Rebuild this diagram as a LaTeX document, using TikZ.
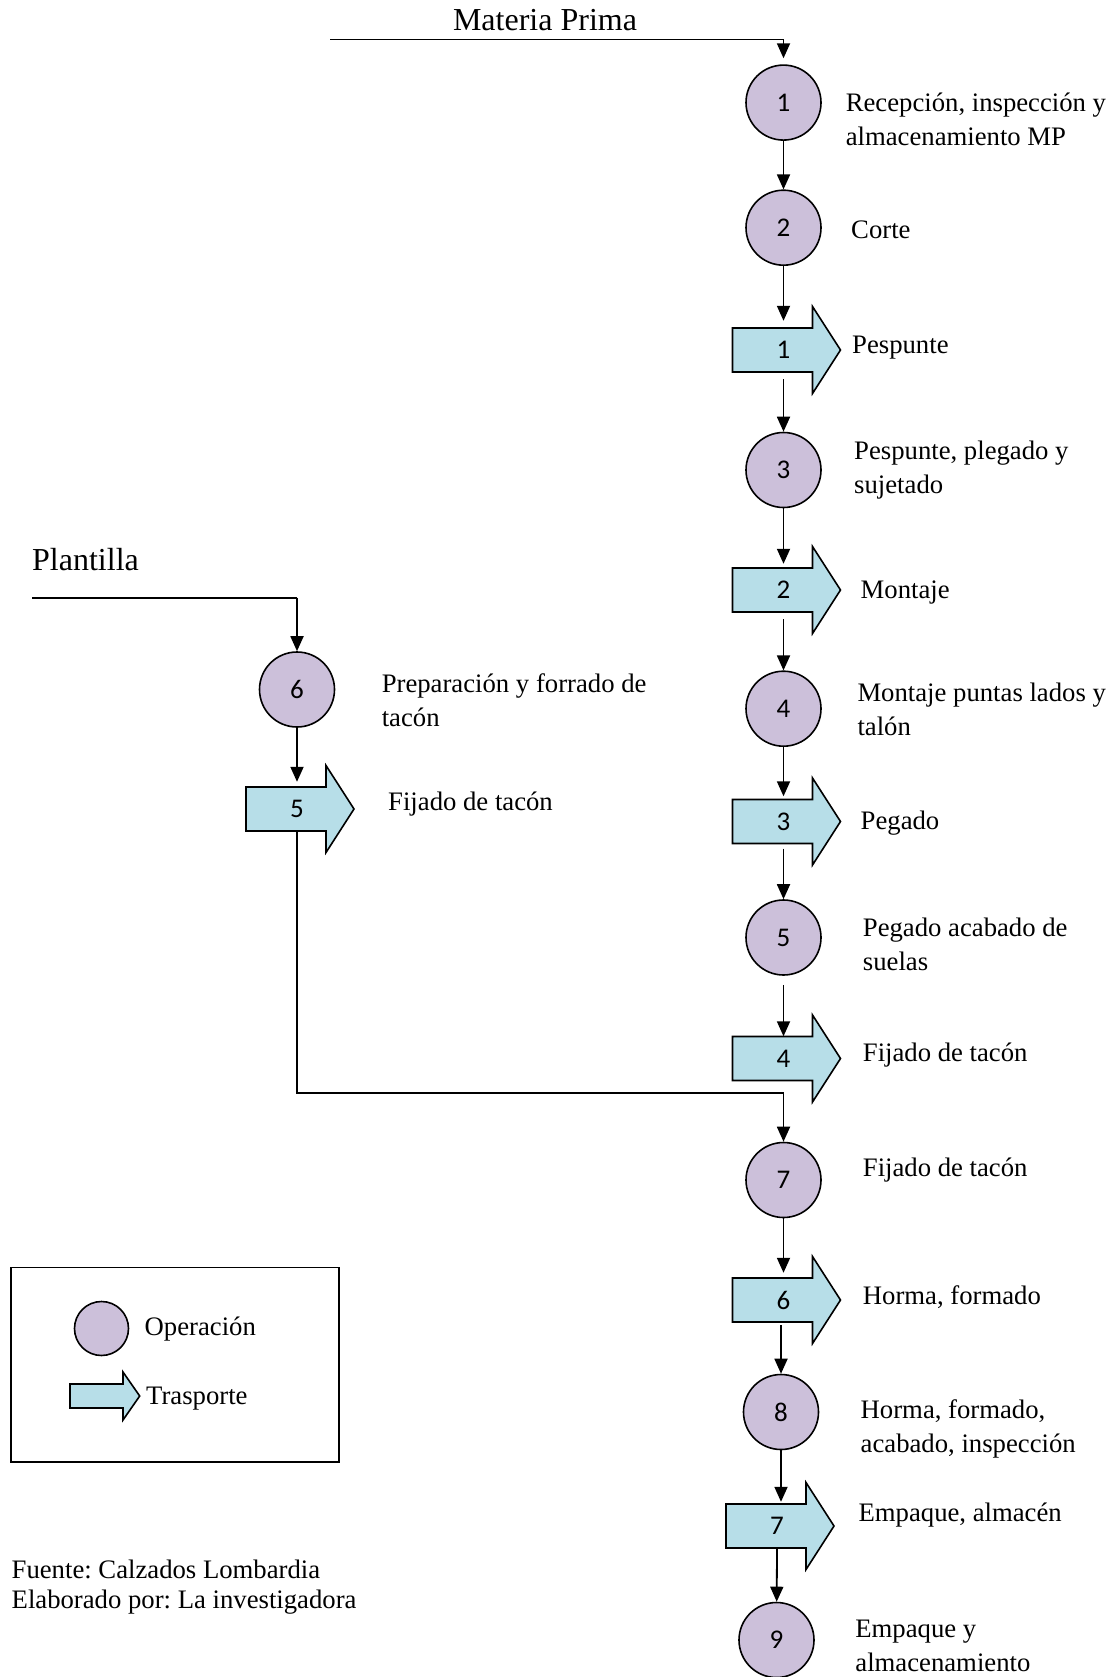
\documentclass[tikz,border=0pt]{standalone}
\usepackage{fontspec}
\setmainfont{Liberation Serif}
\newfontfamily\numfont{Carlito}
\usetikzlibrary{arrows.meta}
\definecolor{opfill}{HTML}{CCC0DA}
\definecolor{trfill}{HTML}{B7DEE8}
\frenchspacing
\newcommand{\transport}[4]{%
  \draw[line width=1.6pt, fill=trfill] (#2-51,#3-22) -- (#2+29,#3-22) -- (#2+29,#3-43.5) -- (#2+57,#3) -- (#2+29,#3+43.5) -- (#2+29,#3+22) -- (#2-51,#3+22) -- cycle;
  \node[trlbl] (#1) at (#2,#3) {\raisebox{-3pt}{#4}};}
\begin{document}
\begin{tikzpicture}[x=1pt,y=-1pt,
  op/.style={circle, draw, line width=1.6pt, fill=opfill, minimum size=75pt, inner sep=0pt, font=\numfont\fontsize{27}{32}\selectfont},
  trlbl/.style={inner sep=0pt, minimum width=20pt, minimum height=44pt, font=\numfont\fontsize{27}{32}\selectfont},
  lbl/.style={anchor=west, inner sep=0pt, align=left, font=\fontsize{26.7}{34}\selectfont},
  big/.style={inner sep=0pt, font=\fontsize{32}{38}\selectfont},
  arr/.style={line width=1.8pt, -{Triangle[length=15pt,width=13pt]}},
  ln/.style={line width=1.8pt},
]
\useasboundingbox (0,0) rectangle (1115,1677);
\fill[white] (0,0) rectangle (1115,1677);

% main column
\node[op] (c1) at (783.5,102.6) {1};
\node[op] (c2) at (783.5,227.7) {2};
\transport{t1}{783.5}{350}{1}
\node[op] (c3) at (783.5,470) {3};
\transport{t2}{783.5}{590}{2}
\node[op] (c4) at (783.5,708.7) {4};
\transport{t3}{783.5}{821.5}{3}
\node[op] (c5) at (783.5,937.5) {5};
\transport{t4}{783.5}{1058.5}{4}
\node[op] (c7) at (783.5,1180) {7};
\transport{t6}{783.5}{1300}{6}
\node[op] (c8) at (781,1412) {8};
\transport{t7}{777}{1526}{7}
\node[op] (c9) at (776.5,1640) {9};

% left branch
\node[op] (c6) at (297,689.5) {6};
\transport{t5}{297}{809}{5}

% labels
\node[big] (mp) at (545,20) {Materia Prima};
\node[big, anchor=west] (pl) at (32,560) {Plantilla};
\node[lbl] (l1) at (845.6,119.5) {Recepción, inspección y\\almacenamiento MP};
\node[lbl] (l2) at (851,229.5) {Corte};
\node[lbl] (lt1) at (852,347.5) {Pespunte};
\node[lbl] (l3) at (854,470.5) {Pespunte, plegado y\\sujetado};
\node[lbl] (lt2) at (860.5,592) {Montaje};
\node[lbl] (l4) at (857.3,709.5) {Montaje puntas lados y\\talón};
\node[lbl] (lt3) at (860.5,823.5) {Pegado};
\node[lbl] (l5) at (862.7,944) {Pegado acabado de\\suelas};
\node[lbl] (lt4) at (862.7,1055) {Fijado de tacón};
\node[lbl] (l7) at (862.7,1170) {Fijado de tacón};
\node[lbl] (lt6) at (862.7,1297.5) {Horma, formado};
\node[lbl] (l8) at (860.5,1429) {Horma, formado,\\acabado, inspección};
\node[lbl] (lt7) at (858.4,1515.5) {Empaque, almacén};
\node[lbl] (l9) at (855.2,1646) {Empaque y\\almacenamiento};
\node[lbl] (l6) at (381.6,700) {Preparación y forrado de\\tacón};
\node[lbl] (lt5) at (388,804.5) {Fijado de tacón};

% input lines
\coordinate (mpstart) at (330,39.6);
\coordinate (mpcorner) at (783.5,39.6);
\draw[ln] (mpstart) -- (mpcorner);
\draw[arr, shorten >=6pt] (mpcorner) -- (c1);
\coordinate (plstart) at (32,597.6);
\coordinate (plcorner) at (297,597.6);
\draw[ln] (plstart) -- (plcorner);
\draw[arr] (plcorner) -- (c6);

% main connectors
\draw[arr] (c1) -- (c2);
\draw[arr, shorten >=7pt] (c2) -- (t1);
\draw[arr, shorten <=7pt] (t1) -- (c3);
\draw[arr, shorten >=4pt] (c3) -- (t2);
\draw[arr, shorten <=7pt] (t2) -- (c4);
\draw[arr, shorten >=3pt] (c4) -- (t3);
\draw[arr, shorten <=5pt] (t3) -- (c5);
\draw[arr, shorten <=9pt] (c5) -- (t4);
\draw[arr, shorten >=5pt] (c7) -- (t6);
\draw[arr, shorten <=3pt] (t6.south -| c8.south) -- (c8);
\draw[arr, shorten >=2pt] (c8.south) -- (c8.south |- t7.north);
\draw[arr] (t7.south) -- (c9);
\draw[arr, shorten >=5pt] (c6) -- (t5);

% merge from left branch
\coordinate (merge) at (783.5,1093);
\draw[ln] (t5.south) |- (merge);
\draw[arr] (merge) -- (c7);

% legend
\node[draw, line width=1.6pt, inner sep=0pt, minimum width=328pt, minimum height=194.5pt] (legend) at (175,1364.75) {};
\node[op, minimum size=54pt] (lgop) at (101.5,1328.5) {};
\node[lbl] (lgoplbl) at (144.5,1329) {Operación};
\draw[line width=1.6pt, fill=trfill] (70,1384) -- (123,1384) -- (123,1372) -- (139.7,1396) -- (123,1420) -- (123,1408) -- (70,1408) -- cycle;
\node[lbl] (lgtrlbl) at (146,1399) {Trasporte};

% source
\node[lbl] (src1) at (11.5,1569) {Fuente: Calzados Lombardia};
\node[lbl] (src2) at (11.5,1602) {Elaborado por: La investigadora};
\end{tikzpicture}
\end{document}
